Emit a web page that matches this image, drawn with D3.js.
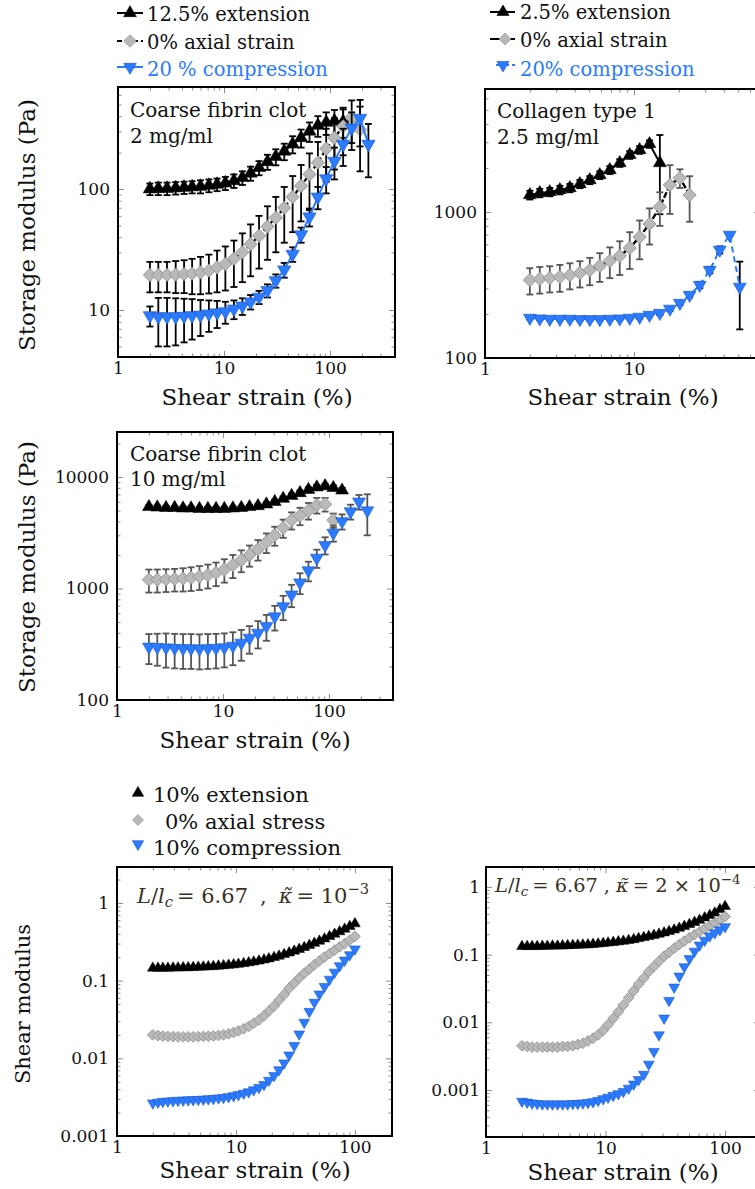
<!DOCTYPE html>
<html>
<head>
<meta charset="utf-8">
<script src="https://cdn.jsdelivr.net/npm/d3@7"></script>
<style>
  html, body { margin: 0; padding: 0; background: #fff; }
  svg { display: block; }
  text { font-family: "DejaVu Serif", serif; fill: #111; }
</style>
</head>
<body>
<svg id="fig" width="755" height="1189"></svg>
<script>
// ---------- strain grids (%) ----------
const strainFibrin = [2, 2.4, 2.9, 3.5, 4.2, 5, 6, 7.2, 8.6, 10.3, 12.4, 14.9, 17.8, 21.4, 25.7, 30.8, 37, 44.4, 53.3, 64, 76.8, 92, 110, 133, 160, 192, 230];
const strainCollagen = [2.00, 2.33, 2.72, 3.18, 3.71, 4.33, 5.05, 5.89, 6.88, 8.02, 9.36, 10.9, 12.7, 14.9, 17.4, 20.3, 23.6, 27.6, 32.2, 37.6, 43.8, 51.2];
const strainModel = [2.00, 2.21, 2.43, 2.68, 2.96, 3.26, 3.60, 3.97, 4.37, 4.82, 5.32, 5.86, 6.46, 7.13, 7.86, 8.67, 9.56, 10.5, 11.6, 12.8, 14.1, 15.6, 17.2, 18.9, 20.9, 23.0, 25.4, 28.0, 30.9, 34.0, 37.5, 41.4, 45.6, 50.3, 55.5, 61.2, 67.5, 74.4, 82.0, 90.5, 100];

// ---------- coarse fibrin clot, 2 mg/ml (Pa) ----------
const fib2Ext   = [100, 101, 101, 102, 103, 104, 105, 107, 109, 112, 117, 124, 135, 150, 168, 185, 205, 235, 265, 300, 335, 355, 365, 360];
const fib2ExtSd = [11, 12, 12, 12, 12, 12, 13, 13, 13, 14, 15, 16, 18, 20, 24, 28, 32, 38, 45, 55, 65, 75, 85, 95];
const fib2Zero   = [19.5, 19.5, 19.5, 19.6, 19.8, 20, 20.5, 21.2, 22.5, 24, 26.5, 30, 35, 41, 49, 58, 70, 86, 106, 132, 165, 215, 265, 330, 390, 310];
const fib2ZeroSd = [5.5, 5.5, 5.5, 5.8, 6, 6.5, 7, 7.5, 8.5, 9.5, 11, 13, 16, 19, 23, 28, 34, 42, 52, 65, 80, 100, 120, 140, 150, 170];
const fib2Comp   = [9.0, 8.8, 8.8, 8.8, 8.9, 9.0, 9.1, 9.3, 9.5, 9.7, 10.2, 10.8, 11.7, 12.8, 14.5, 17.5, 21.5, 29, 42, 59, 86, 122, 170, 235, 320, 385, 235];
const fib2CompSd = [1.7, 3.8, 3.8, 3.7, 3.5, 3.3, 3.0, 2.7, 2.4, 2.0, 1.8, 1.7, 1.6, 1.6, 1.8, 2.2, 3, 4, 6, 10, 18, 30, 50, 80, 110, 160, 110];

// ---------- collagen type 1, 2.5 mg/ml (Pa) ----------
const colExt   = [1307, 1350, 1370, 1415, 1460, 1555, 1655, 1790, 1940, 2165, 2460, 2660, 2920, 2165];
const colExtSd = [90, 90, 90, 95, 95, 100, 105, 110, 120, 130, 150, 160, 170, 1200];
const colZero   = [342, 348, 353, 359, 370, 382, 400, 427, 462, 500, 567, 674, 828, 1083, 1530, 1710, 1307];
const colZeroSd = [70, 72, 72, 75, 75, 78, 85, 95, 110, 130, 160, 200, 230, 280, 560, 250, 450];
const colComp   = [188, 186, 185, 185, 185, 184, 184, 184, 185, 186, 188, 191, 197, 203, 217, 238, 270, 316, 400, 550, 696, 307];
const colCompSd = [4, 4, 4, 4, 4, 4, 4, 4, 4, 4, 4, 5, 5, 6, 7, 8, 10, 15, 20, 30, 10, 150];

// ---------- coarse fibrin clot, 10 mg/ml (Pa) ----------
const fib10Ext   = [5400, 5350, 5300, 5300, 5250, 5250, 5200, 5200, 5200, 5200, 5250, 5300, 5400, 5500, 5700, 6000, 6400, 6800, 7200, 7700, 8100, 8300, 8000, 7600];
const fib10ExtSd = [200, 200, 200, 200, 200, 200, 200, 200, 200, 200, 200, 200, 200, 200, 250, 250, 300, 300, 350, 400, 400, 400, 400, 400];
const fib10Zero   = [1200, 1200, 1210, 1220, 1230, 1250, 1280, 1320, 1380, 1480, 1620, 1800, 2000, 2250, 2600, 3000, 3500, 4100, 4500, 5000, 5600, 5700, 4100];
const fib10ZeroSd = [280, 280, 280, 280, 290, 300, 310, 320, 330, 350, 380, 400, 430, 470, 520, 580, 650, 720, 800, 850, 900, 800, 600];
const fib10Comp   = [300, 298, 295, 292, 290, 290, 288, 290, 292, 296, 305, 325, 360, 400, 460, 560, 690, 880, 1130, 1450, 1880, 2450, 3150, 4000, 4900, 6000, 5000];
const fib10CompSd = [90, 95, 100, 100, 100, 100, 100, 100, 100, 100, 100, 100, 100, 110, 120, 140, 170, 200, 240, 290, 350, 430, 520, 620, 750, 900, 2000];

// ---------- network model, kappa = 1e-3 ----------
const modelAExt  = [0.145, 0.145, 0.145, 0.145, 0.146, 0.146, 0.147, 0.147, 0.148, 0.149, 0.150, 0.151, 0.152, 0.154, 0.156, 0.158, 0.160, 0.163, 0.166, 0.170, 0.174, 0.179, 0.185, 0.191, 0.199, 0.207, 0.217, 0.228, 0.240, 0.253, 0.268, 0.285, 0.303, 0.323, 0.345, 0.370, 0.397, 0.427, 0.460, 0.498, 0.540];
const modelAZero = [0.0200, 0.0196, 0.0193, 0.0191, 0.0190, 0.0189, 0.0189, 0.0189, 0.0189, 0.0190, 0.0191, 0.0192, 0.0194, 0.0197, 0.0201, 0.0207, 0.0215, 0.0226, 0.0240, 0.0258, 0.0282, 0.0312, 0.0352, 0.0405, 0.0470, 0.0560, 0.0660, 0.0800, 0.0930, 0.108, 0.124, 0.141, 0.160, 0.180, 0.201, 0.223, 0.247, 0.272, 0.300, 0.332, 0.370];
const modelAComp = [0.00266, 0.00272, 0.00278, 0.00281, 0.00284, 0.00287, 0.00289, 0.00291, 0.00293, 0.00295, 0.00297, 0.00300, 0.00304, 0.00308, 0.00313, 0.00320, 0.00329, 0.00340, 0.00354, 0.00370, 0.00392, 0.00420, 0.00460, 0.00520, 0.00600, 0.00710, 0.00870, 0.0110, 0.0146, 0.0205, 0.0290, 0.0400, 0.0525, 0.0670, 0.0840, 0.104, 0.128, 0.155, 0.183, 0.215, 0.255];

// ---------- network model, kappa = 2e-4 ----------
const modelBExt  = [0.132, 0.132, 0.132, 0.132, 0.133, 0.133, 0.134, 0.134, 0.135, 0.136, 0.137, 0.138, 0.139, 0.140, 0.142, 0.144, 0.146, 0.149, 0.152, 0.155, 0.158, 0.162, 0.167, 0.173, 0.179, 0.186, 0.193, 0.201, 0.210, 0.220, 0.232, 0.246, 0.262, 0.280, 0.300, 0.323, 0.350, 0.380, 0.413, 0.465, 0.515];
const modelBZero = [0.0045, 0.0044, 0.0043, 0.0043, 0.0043, 0.0043, 0.0043, 0.0043, 0.0044, 0.0044, 0.0045, 0.0047, 0.0049, 0.0053, 0.0058, 0.0065, 0.0076, 0.0092, 0.0114, 0.0143, 0.0180, 0.0230, 0.0290, 0.0365, 0.0450, 0.0560, 0.0670, 0.0800, 0.0940, 0.108, 0.124, 0.141, 0.158, 0.177, 0.197, 0.218, 0.241, 0.266, 0.293, 0.324, 0.365];
const modelBComp = [0.00068, 0.00066, 0.00064, 0.00063, 0.00062, 0.00062, 0.00062, 0.00062, 0.00062, 0.00062, 0.00063, 0.00063, 0.00064, 0.00065, 0.00067, 0.00070, 0.00074, 0.00078, 0.00083, 0.00088, 0.00095, 0.00106, 0.00122, 0.00142, 0.00170, 0.00240, 0.00370, 0.00650, 0.0115, 0.0210, 0.0330, 0.0480, 0.0660, 0.0870, 0.112, 0.138, 0.163, 0.188, 0.210, 0.233, 0.258];

// ---------- axis ticks ----------
const strainTicks = [1, 10, 100];
const strainTickLabels = ["1", "10", "100"];
const fib2Ticks = [10, 100];          const fib2TickLabels = ["10", "100"];
const colTicks = [100, 1000];         const colTickLabels = ["100", "1000"];
const fib10Ticks = [100, 1000, 10000]; const fib10TickLabels = ["100", "1000", "10000"];
const modelTicks = [0.001, 0.01, 0.1, 1]; const modelTickLabels = ["0.001", "0.01", "0.1", "1"];

// ---------- styling ----------
const BLUE = "#2a7bff";
const GREY = "#b9b9b9";
const svg = d3.select("#fig");
const defs = svg.append("defs");
let clipId = 0;

const triPath = s => d3.symbol().type(d3.symbolTriangle).size(s)();
const sqPath = s => d3.symbol().type(d3.symbolSquare).size(s)();

function marker(g, kind, cx, cy, size, fill, stroke, sw) {
  const p = g.append("path").attr("fill", fill).attr("stroke", stroke).attr("stroke-width", sw);
  if (kind === "up") {
    p.attr("d", triPath(size)).attr("transform", `translate(${cx},${cy})`);
  } else if (kind === "down") {
    p.attr("d", triPath(size)).attr("transform", `translate(${cx},${cy}) rotate(180)`);
  } else {
    p.attr("d", sqPath(size)).attr("transform", `translate(${cx},${cy}) rotate(45)`);
  }
}

function drawPanel(p) {
  const x = d3.scaleLog().domain(p.xDomain).range([p.left, p.right]);
  const y = d3.scaleLog().domain(p.yDomain).range([p.bottom, p.top]);
  const g = svg.append("g");

  const id = "clip" + (clipId++);
  defs.append("clipPath").attr("id", id).append("rect")
    .attr("x", p.left).attr("y", p.top).attr("width", p.right - p.left).attr("height", p.bottom - p.top);

  // ticks on all four sides, pointing inward
  const xMinor = x.ticks().filter(v => !p.xTicks.includes(v));
  const yMinor = y.ticks().filter(v => !p.yTicks.some(t => Math.abs(t - v) / t < 1e-9));
  const axes = [
    [d3.axisBottom, x, `translate(0,${p.bottom})`, p.xTicks, xMinor, p.xLabels, 5],
    [d3.axisTop, x, `translate(0,${p.top})`, p.xTicks, xMinor, null, 0],
    [d3.axisLeft, y, `translate(${p.left},0)`, p.yTicks, yMinor, p.yLabels, p.yPad],
    [d3.axisRight, y, `translate(${p.right},0)`, p.yTicks, yMinor, null, 0]
  ];
  axes.forEach(([fn, sc, tr, major, minor, labels, pad]) => {
    const minorG = g.append("g").attr("transform", tr)
      .call(fn(sc).tickValues(minor).tickSize(-3.5).tickFormat(""));
    const majorG = g.append("g").attr("transform", tr)
      .call(fn(sc).tickValues(major).tickSize(-6).tickPadding(pad)
        .tickFormat((d, i) => labels ? labels[i] : ""));
    [minorG, majorG].forEach(a => {
      a.select(".domain").remove();
      a.selectAll(".tick line").attr("stroke", "#8a8a8a").attr("stroke-width", 1);
    });
    majorG.selectAll(".tick text").style("font-family", "DejaVu Serif").attr("font-size", 17).style("fill", "#111");
  });

  const plot = g.append("g").attr("clip-path", `url(#${id})`);

  p.series.forEach(s => {
    const pts = s.values.map((v, i) => ({ x: s.strain[i], y: v, sd: s.sd ? s.sd[i] : 0 }));
    // error bars
    if (s.sd) {
      const eb = plot.append("g").attr("stroke", s.barColor).attr("stroke-width", 1.8).attr("fill", "none");
      pts.forEach(d => {
        if (!d.sd) return;
        const lo = Math.max(d.y - d.sd, p.yDomain[0] * 1.0001);
        const hi = d.y + d.sd;
        const cx = x(d.x);
        eb.append("line").attr("x1", cx).attr("x2", cx).attr("y1", y(lo)).attr("y2", y(hi));
        eb.append("line").attr("x1", cx - 3.5).attr("x2", cx + 3.5).attr("y1", y(hi)).attr("y2", y(hi));
        if (d.y - d.sd > p.yDomain[0]) {
          eb.append("line").attr("x1", cx - 3.5).attr("x2", cx + 3.5).attr("y1", y(lo)).attr("y2", y(lo));
        }
      });
    }
    // connecting line
    if (s.line) {
      plot.append("path").datum(pts)
        .attr("d", d3.line().x(d => x(d.x)).y(d => y(d.y)))
        .attr("fill", "none").attr("stroke", s.line.color).attr("stroke-width", s.line.width)
        .attr("stroke-dasharray", s.line.dash || null);
    }
    // markers
    const mg = plot.append("g");
    pts.forEach(d => marker(mg, s.kind, x(d.x), y(d.y), s.size, s.fill, s.stroke, s.sw));
  });

  // frame
  g.append("rect").attr("x", p.left).attr("y", p.top)
    .attr("width", p.right - p.left).attr("height", p.bottom - p.top)
    .attr("fill", "none").attr("stroke", "#000").attr("stroke-width", 2);

  return { x, y };
}

// ---------- series definitions ----------
const blackTri = (strain, values, sd, size, line) => ({ strain, values, sd, kind: "up", size, fill: "#000", stroke: "#000", sw: 0.5, barColor: "#000", line });
const greyDia = (strain, values, sd, size, line, barColor) => ({ strain, values, sd, kind: "dia", size, fill: GREY, stroke: "#8f8f8f", sw: 0.8, barColor, line });
const blueTri = (strain, values, sd, size, line, barColor) => ({ strain, values, sd, kind: "down", size, fill: BLUE, stroke: "#1c55c4", sw: 0.6, barColor, line });

// Panel: coarse fibrin clot 2 mg/ml
drawPanel({
  left: 118, right: 395, top: 87, bottom: 357,
  xDomain: [1, 410], yDomain: [4.09, 697],
  xTicks: strainTicks, xLabels: strainTickLabels, yTicks: fib2Ticks, yLabels: fib2TickLabels, yPad: 8,
  series: [
    blackTri(strainFibrin, fib2Ext, fib2ExtSd, 78, { color: "#000", width: 2 }),
    greyDia(strainFibrin, fib2Zero, fib2ZeroSd, 88, { color: "#000", width: 2.2, dash: "5,3" }, "#000"),
    blueTri(strainFibrin, fib2Comp, fib2CompSd, 78, { color: BLUE, width: 2 }, "#000")
  ]
});

// Panel: collagen type 1
drawPanel({
  left: 485, right: 760, top: 89, bottom: 358,
  xDomain: [1, 70], yDomain: [100, 6950],
  xTicks: [1, 10], xLabels: ["1", "10"], yTicks: colTicks, yLabels: colTickLabels, yPad: 8,
  series: [
    blackTri(strainCollagen, colExt, colExtSd, 72, { color: "#000", width: 2 }),
    greyDia(strainCollagen, colZero, colZeroSd, 88, { color: "#000", width: 2.4, dash: "6,2" }, "#555"),
    blueTri(strainCollagen, colComp, colCompSd, 72, { color: BLUE, width: 2, dash: "6,4" }, "#000")
  ]
});

// Panel: coarse fibrin clot 10 mg/ml
drawPanel({
  left: 117, right: 393, top: 432, bottom: 700,
  xDomain: [1, 402], yDomain: [100, 25350],
  xTicks: strainTicks, xLabels: strainTickLabels, yTicks: fib10Ticks, yLabels: fib10TickLabels, yPad: 8,
  series: [
    blackTri(strainFibrin, fib10Ext, fib10ExtSd, 72, null),
    greyDia(strainFibrin, fib10Zero, fib10ZeroSd, 88, null, "#555"),
    blueTri(strainFibrin, fib10Comp, fib10CompSd, 72, null, "#555")
  ]
});

// Panel: model, kappa = 1e-3
drawPanel({
  left: 117, right: 392, top: 867, bottom: 1136,
  xDomain: [1, 205], yDomain: [0.001, 2.9],
  xTicks: strainTicks, xLabels: strainTickLabels, yTicks: modelTicks, yLabels: modelTickLabels, yPad: 8,
  series: [
    blackTri(strainModel, modelAExt, null, 50, null),
    greyDia(strainModel, modelAZero, null, 58, null, null),
    blueTri(strainModel, modelAComp, null, 50, null, null)
  ]
});

// Panel: model, kappa = 2e-4
drawPanel({
  left: 486, right: 760, top: 867, bottom: 1137,
  xDomain: [1, 196], yDomain: [0.000202, 1.97],
  xTicks: strainTicks, xLabels: strainTickLabels, yTicks: modelTicks, yLabels: modelTickLabels, yPad: 6,
  series: [
    blackTri(strainModel, modelBExt, null, 50, null),
    greyDia(strainModel, modelBZero, null, 58, null, null),
    blueTri(strainModel, modelBComp, null, 50, null, null)
  ]
});

// ---------- axis titles ----------
function title(x, y, str, size, rotate) {
  svg.append("text").attr("transform", `translate(${x},${y})` + (rotate ? " rotate(-90)" : ""))
    .attr("text-anchor", "middle").attr("font-size", size).text(str);
}
title(257, 405, "Shear strain (%)", 23);
title(623, 405, "Shear strain (%)", 23);
title(255, 748, "Shear strain (%)", 23);
title(255, 1178, "Shear strain (%)", 23);
title(623, 1180, "Shear strain (%)", 23);
title(35, 225, "Storage modulus (Pa)", 23, true);
title(35, 567, "Storage modulus (Pa)", 23, true);
title(30, 1004, "Shear modulus", 21, true);

// ---------- in-panel annotations ----------
function note(x, y, str, size) {
  svg.append("text").attr("x", x).attr("y", y).attr("font-size", size).text(str);
}
note(130, 117, "Coarse fibrin clot", 20);
note(130, 143, "2 mg/ml", 20);
note(497, 118, "Collagen type 1", 20);
note(497, 144, "2.5 mg/ml", 20);
note(130, 461, "Coarse fibrin clot", 20);
note(130, 486, "10 mg/ml", 20);

// model parameters: L/l_c and bending stiffness
function modelNote(x, y, kappaText, size, gap) {
  const t = svg.append("text").attr("x", x).attr("y", y).attr("font-size", size)
    .style("fill", "#3a3022");
  t.append("tspan").attr("font-style", "italic").text("L");
  t.append("tspan").text("/");
  t.append("tspan").attr("font-style", "italic").text("l");
  t.append("tspan").attr("font-style", "italic").attr("font-size", size * 0.7).attr("dy", 4).text("c");
  t.append("tspan").attr("dy", -4).attr("dx", 4).text("= 6.67");
  t.append("tspan").attr("dx", gap).text(",");
  t.append("tspan").attr("dx", gap).attr("font-style", "italic").text("\u03BA\u0303");
  t.append("tspan").attr("dx", 4).text("= " + kappaText[0]);
  t.append("tspan").attr("font-size", size * 0.7).attr("dy", -size * 0.42).text(kappaText[1]);
}
modelNote(137, 903, ["10", "\u22123"], 21, 12);
modelNote(495, 892, ["2 \u00D7 10", "\u22124"], 19.4, 6);

// ---------- legends ----------
function legendRow(lx1, lx2, ly, mx, kind, size, fill, stroke, line, tx, ty, label, color, fsize) {
  const g = svg.append("g");
  if (line) {
    g.append("line").attr("x1", lx1).attr("x2", lx2).attr("y1", ly).attr("y2", ly)
      .attr("stroke", line.color).attr("stroke-width", line.width).attr("stroke-dasharray", line.dash || null);
  }
  marker(g, kind, mx, ly, size, fill, stroke, 0.6);
  g.append("text").attr("x", tx).attr("y", ty).attr("font-size", fsize).style("fill", color).text(label);
}
// fibrin 2 mg/ml
legendRow(117, 143, 13, 130, "up", 70, "#000", "#000", { color: "#000", width: 2 }, 147, 21, "12.5% extension", "#111", 19.5);
legendRow(117, 143, 41, 130, "dia", 80, GREY, "#8f8f8f", { color: "#000", width: 2, dash: "5,3" }, 147, 48.5, "0% axial strain", "#111", 19.5);
legendRow(117, 143, 67, 130, "down", 70, BLUE, "#1c55c4", { color: BLUE, width: 2 }, 147, 76, "20 % compression", BLUE, 19.5);
// collagen
legendRow(490, 515, 12, 503, "up", 64, "#000", "#000", { color: "#000", width: 2 }, 520, 19, "2.5% extension", "#111", 19.5);
legendRow(490, 515, 39, 505, "dia", 72, GREY, "#8f8f8f", { color: "#000", width: 2 }, 520, 47, "0% axial strain", "#111", 19.5);
legendRow(496, 515, 65, 503, "down", 64, BLUE, "#1c55c4", { color: BLUE, width: 2, dash: "5,3" }, 520, 75.5, "20% compression", BLUE, 19.5);
// model
legendRow(0, 0, 793, 138, "up", 56, "#000", "#000", null, 153, 802, "10% extension", "#111", 21);
legendRow(0, 0, 820, 138, "dia", 60, GREY, "#8f8f8f", null, 165, 829, "0% axial stress", "#111", 21);
legendRow(0, 0, 844, 138, "down", 56, BLUE, "#1c55c4", null, 153, 855, "10% compression", "#111", 21);
</script>
</body>
</html>
